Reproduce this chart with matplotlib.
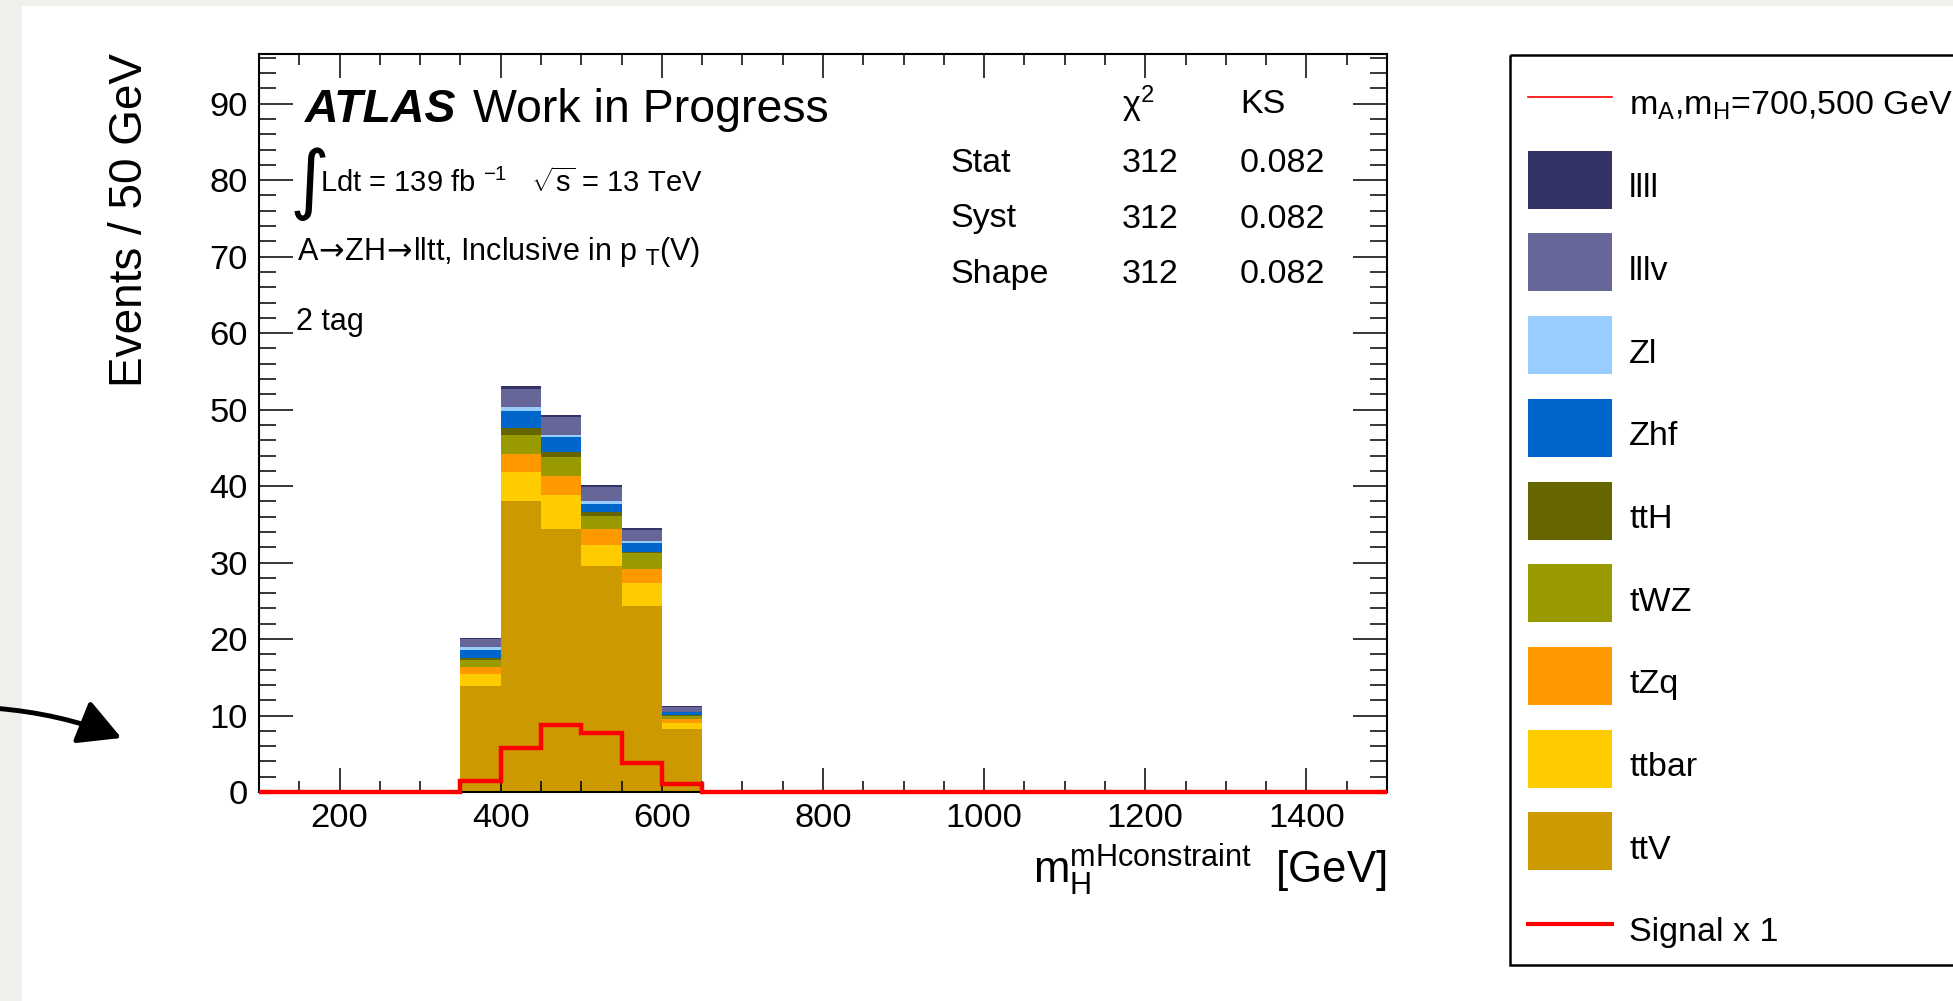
import numpy as np
import matplotlib
matplotlib.use('Agg')
import matplotlib.pyplot as plt
from matplotlib.patches import Rectangle, FancyArrowPatch
from matplotlib.ticker import MultipleLocator

plt.rcParams['font.family'] = ['Liberation Sans', 'DejaVu Sans']
plt.rcParams['mathtext.fontset'] = 'custom'
plt.rcParams['mathtext.rm'] = 'Liberation Sans'
plt.rcParams['mathtext.it'] = 'Liberation Sans:italic'
plt.rcParams['mathtext.bf'] = 'Liberation Sans:bold'

# m_H (mH constraint), 2 tag, 50 GeV bins; only these bins are non-empty
bin_edges = [350, 400, 450, 500, 550, 600, 650]
x_range = (100, 1500)

# backgrounds, listed bottom of the stack first
ttV = [13.9, 38.0, 34.4, 29.5, 24.3, 8.3]
ttbar = [1.5, 3.8, 4.4, 2.8, 3.0, 0.7]
tZq = [1.0, 2.4, 2.5, 2.1, 1.9, 0.6]
tWZ = [0.9, 2.5, 2.5, 1.7, 2.0, 0.4]
ttH = [0.2, 0.9, 0.7, 0.5, 0.2, 0.1]
Zhf = [1.1, 2.2, 1.9, 1.1, 1.2, 0.3]
Zl = [0.4, 0.6, 0.3, 0.3, 0.2, 0.1]
lllv = [1.0, 2.3, 2.3, 1.9, 1.4, 0.6]
llll = [0.2, 0.4, 0.3, 0.3, 0.3, 0.2]

signal = [1.4, 5.8, 8.8, 7.7, 3.8, 1.1]

stack = [
    ('ttV', ttV, '#cc9900'),
    ('ttbar', ttbar, '#ffcc00'),
    ('tZq', tZq, '#ff9900'),
    ('tWZ', tWZ, '#999900'),
    ('ttH', ttH, '#666600'),
    ('Zhf', Zhf, '#0066cc'),
    ('Zl', Zl, '#99ccff'),
    ('lllv', lllv, '#666699'),
    ('llll', llll, '#333366'),
]

stat_rows = ['Stat', 'Syst', 'Shape']
chi2 = ['312', '312', '312']
ks = ['0.082', '0.082', '0.082']

W, H = 1953, 1001
fig = plt.figure(figsize=(W / 100, H / 100), dpi=100)
fig.patch.set_facecolor('#efefeb')
fig.add_artist(Rectangle((22 / W, 0), 1 - 22 / W, 1 - 6 / H,
                         transform=fig.transFigure, facecolor='white',
                         edgecolor='none', zorder=0))

ax = fig.add_axes([259 / W, 1 - 792 / H, 1128 / W, 738 / H])


def frac(px, py):
    # canvas pixel -> axes fraction
    return (px - 259) / 1128, (792 - py) / 738


bottom = np.zeros(len(ttV))
for name, vals, col in stack:
    top = bottom + np.array(vals)
    ax.stairs(top, bin_edges, baseline=bottom, fill=True, color=col,
              linewidth=0, zorder=1)
    bottom = top

sig_edges = [x_range[0]] + bin_edges + [x_range[1]]
sig_vals = [0] + signal + [0]
ax.stairs(sig_vals, sig_edges, baseline=None, color='#ff0000', linewidth=3.2,
          zorder=3, clip_on=False)

ax.set_xlim(*x_range)
ax.set_ylim(0, 96.5)
ax.xaxis.set_major_locator(MultipleLocator(200))
ax.xaxis.set_minor_locator(MultipleLocator(50))
ax.yaxis.set_major_locator(MultipleLocator(10))
ax.yaxis.set_minor_locator(MultipleLocator(2))
ax.tick_params(which='both', direction='in', top=True, right=True,
               width=1.1, labelsize=24.8, pad=8)
ax.tick_params(axis='x', which='major', length=17)
ax.tick_params(axis='x', which='minor', length=8)
ax.tick_params(axis='y', which='major', length=24.5)
ax.tick_params(axis='y', which='minor', length=12)
for sp in ax.spines.values():
    sp.set_linewidth(1.5)

ax.text(*frac(1387, 883), r'm$_{\rm H}^{\rm mHconstraint}$  [GeV]',
        transform=ax.transAxes, ha='right', va='baseline', fontsize=31.5)
ax.text(*frac(142, 53), 'Events / 50 GeV', transform=ax.transAxes,
        rotation=90, rotation_mode='anchor', ha='right', va='baseline',
        fontsize=33)

# labels in the top left corner
ax.text(*frac(305, 122), 'ATLAS', transform=ax.transAxes, fontsize=33.5,
        fontweight='bold', fontstyle='italic', va='baseline')
ax.text(*frac(473, 122), 'Work in Progress', transform=ax.transAxes,
        fontsize=33.5, va='baseline')
ax.text(*frac(289, 205), r'$\int$', transform=ax.transAxes, fontsize=39,
        va='baseline', math_fontfamily='dejavusans')
ax.text(*frac(320, 192), r'Ldt = 139 fb $^{-1}$   $\sqrt{\rm s}$ = 13 TeV',
        transform=ax.transAxes, fontsize=21, va='baseline')
ax.text(*frac(297, 260),
        r'A$\!\rightarrow\!$ZH$\!\rightarrow\!$lltt, Inclusive in p $_{\rm T}$(V)',
        transform=ax.transAxes, fontsize=22, va='baseline',
        math_fontfamily='dejavusans')
ax.text(*frac(296, 330), '2 tag', transform=ax.transAxes, fontsize=22,
        va='baseline')

# goodness-of-fit table
ax.text(*frac(1122, 115), '\u03c7$^{2}$', transform=ax.transAxes,
        fontsize=24.5, va='baseline')
ax.text(*frac(1240, 113), 'KS', transform=ax.transAxes, fontsize=24.5,
        va='baseline')
for i, row in enumerate(stat_rows):
    py = 172 + 55.5 * i
    ax.text(*frac(950, py), row, transform=ax.transAxes, fontsize=24.5, va='baseline')
    ax.text(*frac(1122, py), chi2[i], transform=ax.transAxes, fontsize=24.5, va='baseline')
    ax.text(*frac(1240, py), ks[i], transform=ax.transAxes, fontsize=24.5, va='baseline')

# legend box, drawn on a canvas-sized overlay in pixel units
lax = fig.add_axes([0, 0, 1, 1], zorder=5)
lax.set_xlim(0, W)
lax.set_ylim(H, 0)
lax.axis('off')
lax.patch.set_alpha(0)

lax.add_patch(Rectangle((1510, 55), 520, 910, fill=False, edgecolor='black',
                        linewidth=1.8, clip_on=False))
entries = [('line', r'm$_{\rm A}$,m$_{\rm H}$=700,500 GeV', '#ff0000', 1.2)]
for name, vals, col in reversed(stack):
    entries.append(('box', name, col, 0))
entries.append(('line', 'Signal x 1', '#ff0000', 3.0))

row_h = 82.7
for i, (kind, label, col, lw) in enumerate(entries):
    yc = 97 + row_h * i
    if kind == 'box':
        lax.add_patch(Rectangle((1528, yc - 29), 84, 58, facecolor=col,
                                edgecolor='none'))
    else:
        lax.plot([1528, 1612], [yc, yc], color=col, linewidth=lw)
    lax.text(1629, yc + 17.5, label, fontsize=24.5, va='baseline')

lax.add_patch(FancyArrowPatch((-8, 708), (124, 739),
                              connectionstyle='arc3,rad=-0.08',
                              arrowstyle='-|>,head_length=0.65,head_width=0.35',
                              mutation_scale=40, linewidth=3.5,
                              color='black', clip_on=False))

fig.savefig('out.png', dpi=100, facecolor=fig.get_facecolor())
